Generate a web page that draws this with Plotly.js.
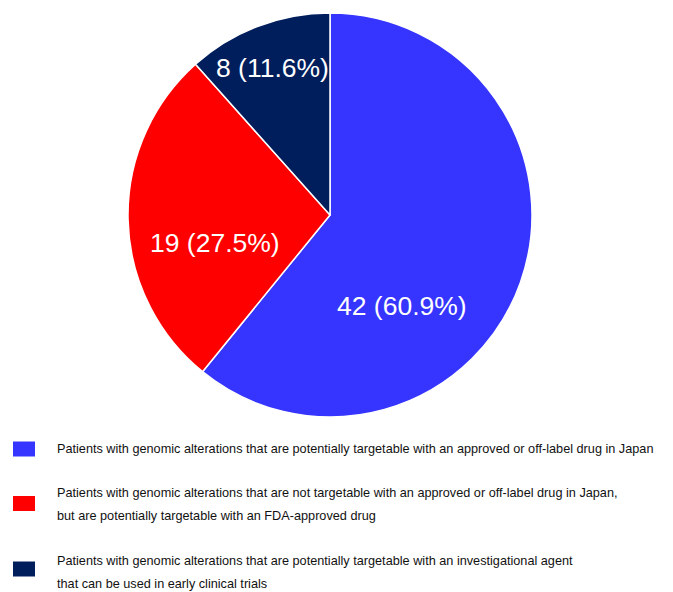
<!DOCTYPE html>
<html>
<head>
<meta charset="utf-8">
<script src="https://cdn.plot.ly/plotly-3.0.1.min.js"></script>
<style>
  html, body { margin: 0; padding: 0; background: #fff; }
  #chart { width: 673px; height: 592px; }
</style>
</head>
<body>
<div id="chart"></div>
<script>
// Patient groups by how their genomic alterations can be targeted
const groupCounts = [42, 19, 8];
const groupColors = ['#3535FF', '#FF0000', '#001E5C'];
const groupLabels = [
  'Patients with genomic alterations that are potentially targetable with an approved or off-label drug in Japan',
  'Patients with genomic alterations that are not targetable with an approved or off-label drug in Japan, but are potentially targetable with an FDA-approved drug',
  'Patients with genomic alterations that are potentially targetable with an investigational agent that can be used in early clinical trials'
];
// How each legend description is broken into lines
const legendLines = [
  ['Patients with genomic alterations that are potentially targetable with an approved or off-label drug in Japan'],
  ['Patients with genomic alterations that are not targetable with an approved or off-label drug in Japan,',
   'but are potentially targetable with an FDA-approved drug'],
  ['Patients with genomic alterations that are potentially targetable with an investigational agent',
   'that can be used in early clinical trials']
];

const W = 673, H = 592;
const px = x => x / W;
const py = y => 1 - y / H;

// Pie geometry (pixels)
const CX = 330, CY = 215, R = 202;

const trace = {
  type: 'pie',
  values: groupCounts,
  labels: groupLabels,
  sort: false,
  direction: 'clockwise',
  rotation: 0,
  marker: { colors: groupColors, line: { color: '#ffffff', width: 1.5 } },
  textinfo: 'none',
  hoverinfo: 'label+value+percent',
  domain: { x: [px(CX - R), px(CX + R)], y: [py(CY + R), py(CY - R)] },
  showlegend: false
};

// Slice labels: placed along each slice, offset from its mid-angle
const labelRadius = [0.575, 0.585, 0.78];
const labelTurn = [32, -12.5, -0.6];   // degrees, clockwise
const total = groupCounts.reduce((a, b) => a + b, 0);
const annotations = [];
let start = 0;
groupCounts.forEach((v, i) => {
  const sweep = v / total * 360;
  const theta = (start + sweep / 2 + labelTurn[i]) * Math.PI / 180;
  start += sweep;
  const r = labelRadius[i] * R;
  const pct = (v / total * 100).toFixed(1);
  annotations.push({
    text: v + ' (' + pct + '%)',
    xref: 'paper', yref: 'paper',
    x: px(CX + r * Math.sin(theta)), y: py(CY - r * Math.cos(theta)),
    xanchor: 'center', yanchor: 'middle', showarrow: false,
    font: { family: 'Liberation Sans, Arial, sans-serif', size: 26.5, color: '#ffffff' }
  });
});

// Legend drawn as squares plus one text line per annotation
const shapes = [];
const firstLineY = [449, 493, 561];
const boxY = [449, 503.5, 569];
const lineGap = 23;
legendLines.forEach((lines, i) => {
  shapes.push({
    type: 'rect', xref: 'paper', yref: 'paper',
    x0: px(13), x1: px(35), y0: py(boxY[i] + 7.5), y1: py(boxY[i] - 7.5),
    fillcolor: groupColors[i], line: { width: 0 }
  });
  lines.forEach((t, j) => {
    annotations.push({
      text: t, xref: 'paper', yref: 'paper',
      x: px(56), y: py(firstLineY[i] + j * lineGap),
      xanchor: 'left', yanchor: 'middle', showarrow: false, borderpad: 0,
      font: { family: 'Liberation Sans, Arial, sans-serif', size: 12.7, color: '#111111' }
    });
  });
});

const layout = {
  width: W, height: H,
  margin: { l: 0, r: 0, t: 0, b: 0 },
  paper_bgcolor: '#ffffff',
  showlegend: false,
  shapes: shapes,
  annotations: annotations
};

Plotly.newPlot('chart', [trace], layout, { displayModeBar: false, staticPlot: true });
</script>
</body>
</html>
